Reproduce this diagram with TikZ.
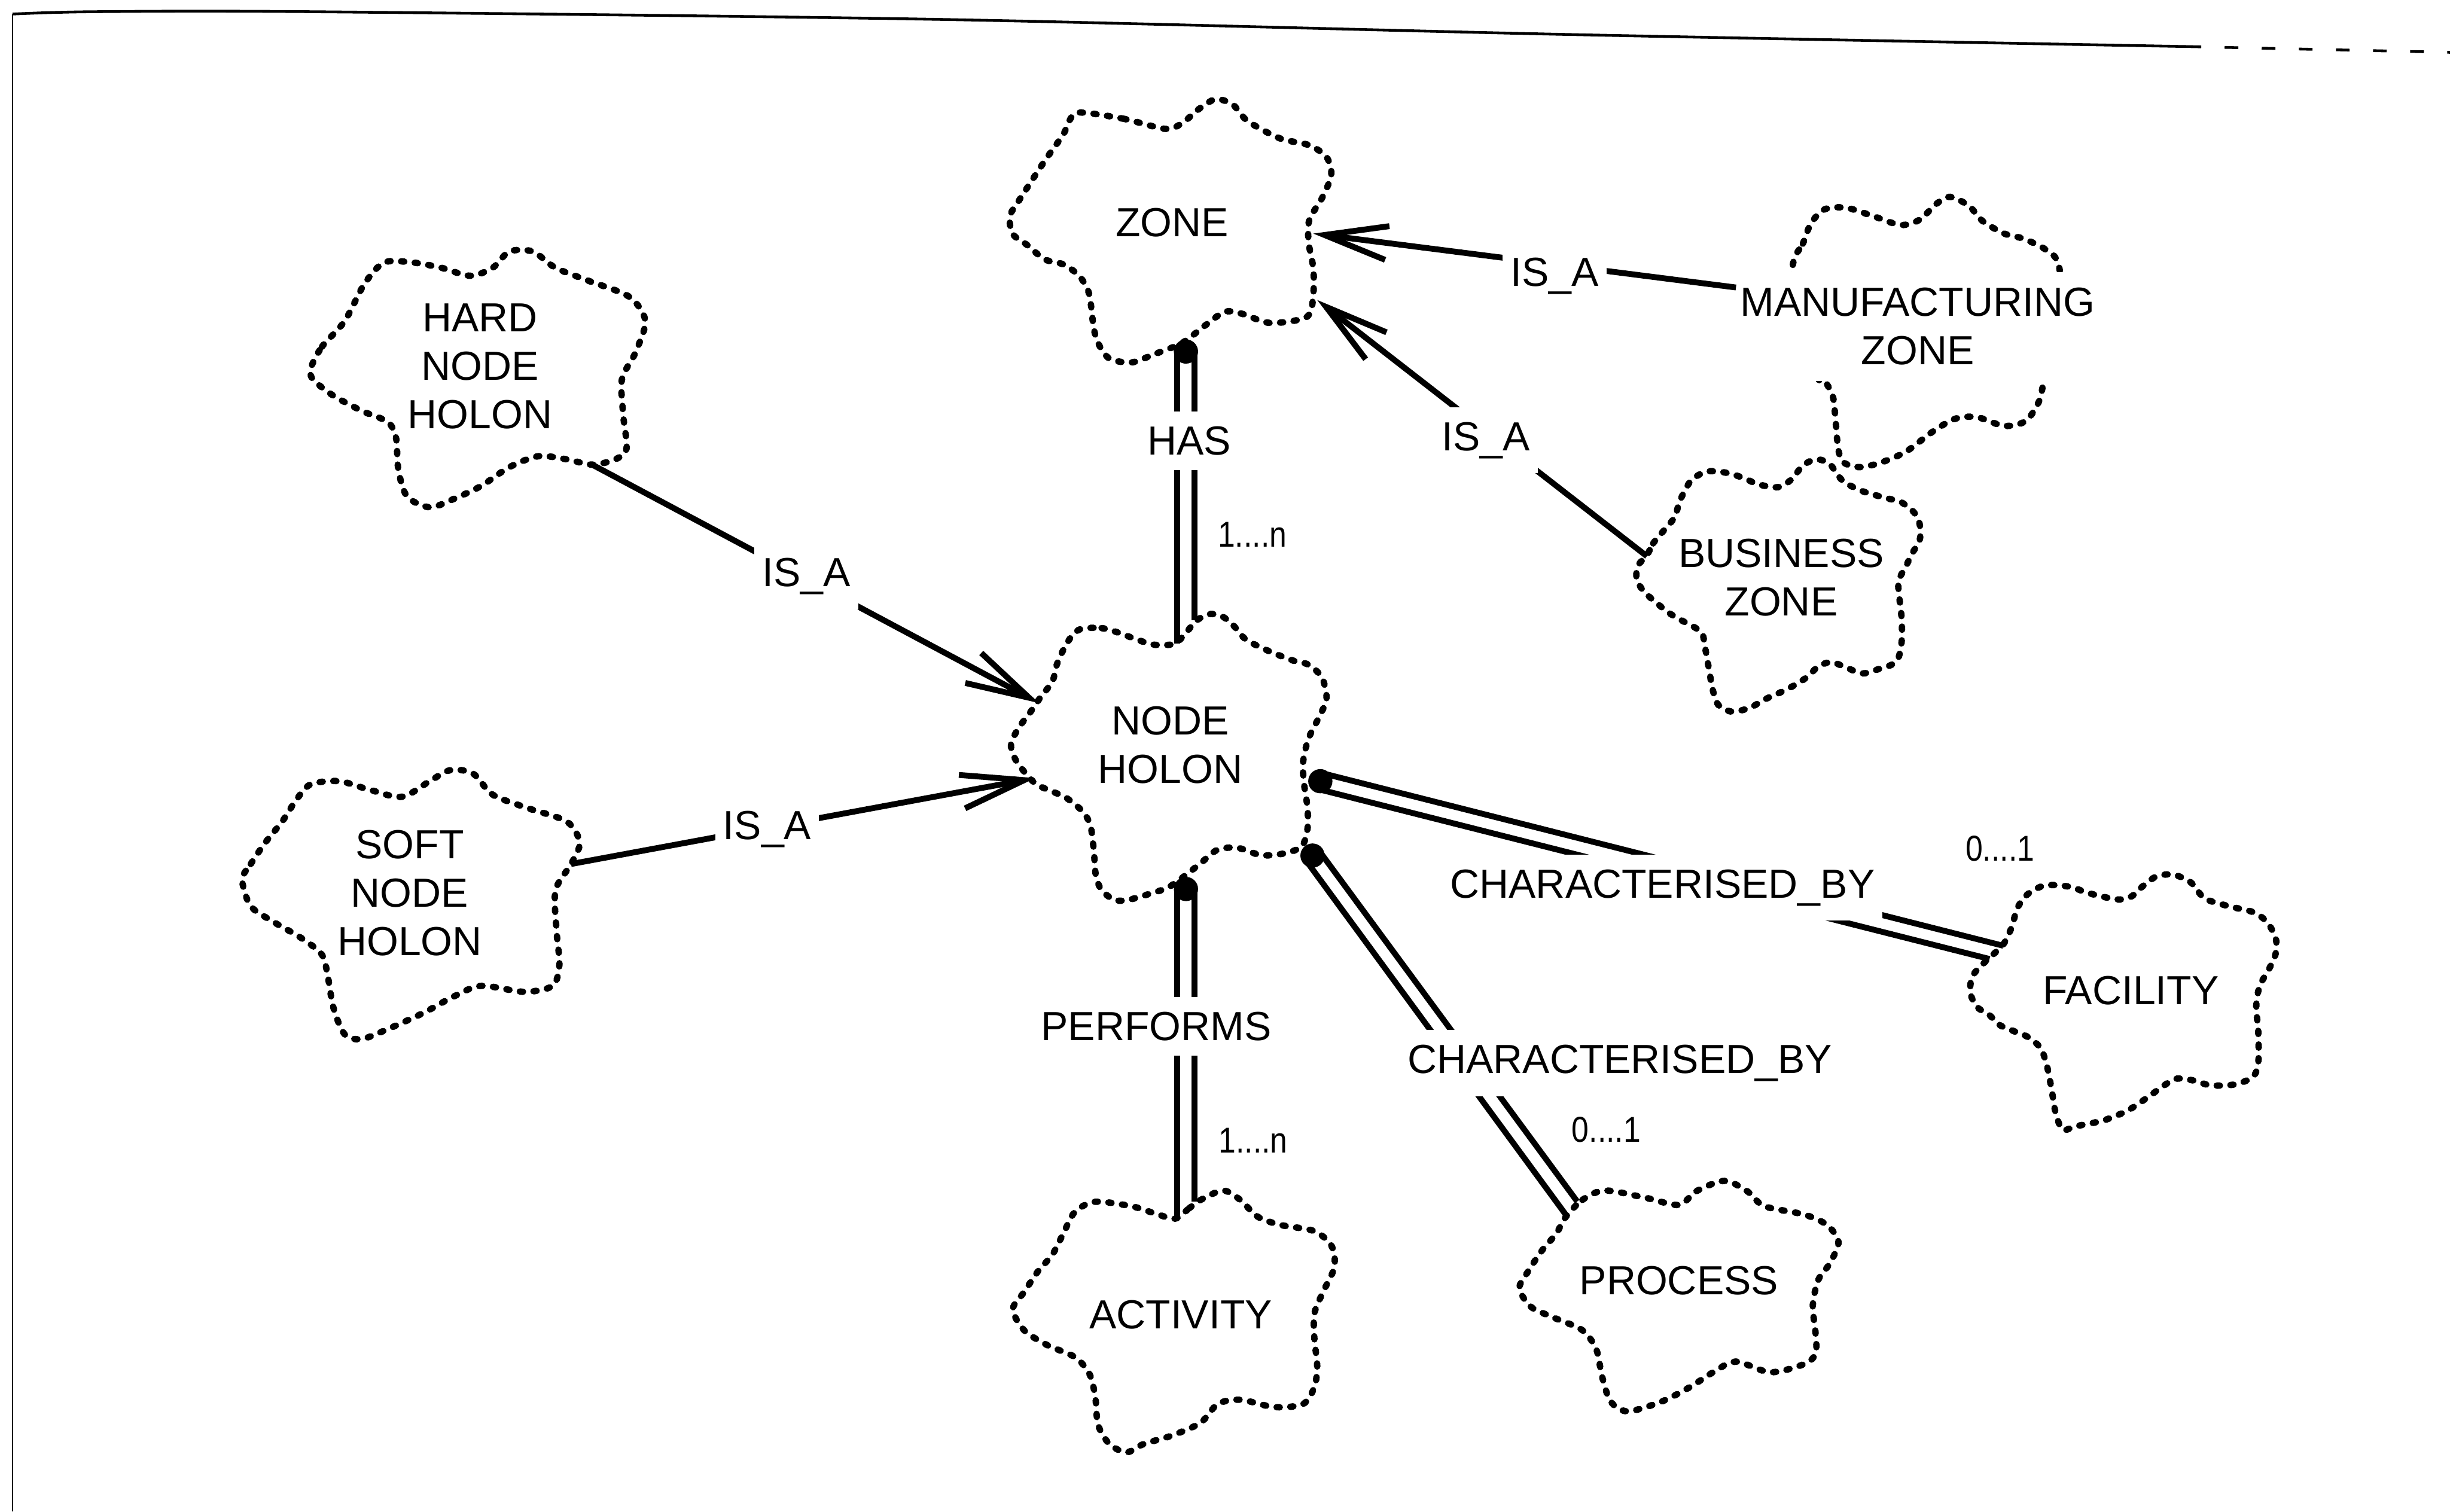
\documentclass[tikz,border=0pt]{standalone}
\usepackage{fontspec}
\setmainfont{Liberation Sans}
\usepackage{graphicx}
\usetikzlibrary{arrows.meta}

\newcommand\lblfont{\fontsize{29.6pt}{35.3pt}\selectfont}
\newcommand\multfont{\fontsize{26.2pt}{30pt}\selectfont}
\newcommand\mult[1]{\scalebox{0.86}[1]{#1}}

\begin{document}
\begin{tikzpicture}[x=0.04cm,y=-0.04cm,
  cloud/.style={line width=0.165cm, line cap=round, dash pattern=on 0.08cm off 0.27cm},
  frametop/.style={line width=0.07cm},
  frameside/.style={line width=0.04cm},
  isa/.style={line width=0.15cm, -{Straight Barb[length=1.62cm,width=0.87cm]}},
  rel/.style={line width=0.15cm},
  ent/.style={font=\lblfont, align=center, inner sep=0pt},
  lbl/.style={font=\lblfont, fill=white, inner xsep=0.2cm, inner ysep=0.38cm, anchor=base},
  card/.style={font=\multfont, inner sep=0pt}]

\useasboundingbox (0,0) rectangle (1568,967.5);

% page frame
\draw[frameside] (8,967.5) -- (8,9);
\draw[frametop] plot[smooth] coordinates {(8,9) (60,7.5) (200,7.5) (600,12.4) (1000,22) (1400,29.8)};
\draw[frametop, dash pattern=on 0.35cm off 0.6cm] (1400,29.8) -- (1568,33.5);

% entity outlines
\draw[cloud] plot[smooth cycle, tension=0.5] coordinates {
 (691,72) (719,76) (746,82.5) (757,78.5) (767,70) (778,63.5) (789,67) (798.5,77.5)
 (819,88.5) (838,93) (849,100.6) (852,112) (846,127) (838,140.6) (837.5,155) (840.5,171.7)
 (840.5,188) (836.5,202.7) (813,206.7) (795.5,201) (784,199.5) (771.7,208) (756.5,219.5)
 (738,227) (724,232) (710,229.5) (703,220) (700,210) (697,188) (691,177) (681,169.4)
 (668.6,166) (657.6,157) (648,149.6) (646.5,138) (653,127) (668.6,103) (680.5,86) (684.5,77)};

\draw[cloud] plot[smooth cycle, tension=0.5] coordinates {
 (198.8,236) (206,222) (220.6,205.5) (233.3,181.6) (246,168) (264,168) (282.5,171.4)
 (300.9,176.5) (315.3,171.4) (326,161) (341,161) (355.5,171.4) (377.4,180) (402.8,190)
 (413,205.5) (406.5,226) (398,243) (399,267) (401,287) (393.8,294) (379,297.4) (362.7,294)
 (344.6,292) (326,299) (308,311) (290,319.5) (275,324.7) (260.6,317.8) (255,301) (253.4,280)
 (248,270) (231.6,263) (213,253) (200.5,243)};

\draw[cloud] plot[smooth cycle, tension=0.5] coordinates {
 (155,563) (160.5,553) (169.7,539.4) (180.6,525.8) (189.6,512) (198.8,502) (217,500)
 (235,505) (257,510) (275,500) (288,493) (302.6,495) (315.3,508.6) (337,517) (362.7,525.8)
 (371,539.4) (365.5,553) (355.5,570) (356.3,597) (358,617.6) (353.6,631) (335.4,634.8)
 (308,631) (290,638) (271.6,648) (249.7,658) (231.6,665) (220.6,662) (213.4,645)
 (209.7,624.4) (206,611) (193,600.5) (175,590) (160.5,580)};

\draw[cloud] plot[smooth cycle, tension=0.5] coordinates {
 (692,402.5) (705,402) (716,405) (727.7,409.4) (739,412.7) (751.8,412) (759,405) (766,397)
 (774.7,393) (783,395) (790,401) (797.5,409.4) (812,416.7) (827.6,422.8) (837.5,425.5)
 (846,433.6) (849,447) (844.7,458) (837.5,472.6) (834,487.5) (834.5,501) (836.8,517)
 (836.8,530.4) (833.3,541.4) (823,546) (807.5,547.4) (791.8,542.6) (779,544) (769,552)
 (759,560) (747.6,568) (736,572) (722,576) (713.3,576) (705,569.7) (701.3,560) (700,544)
 (697.7,527.7) (692,518.5) (682,510.4) (672,506) (662,501) (650.7,487.5) (647,476.6)
 (652,465.8) (659,456.4) (666.4,445.6) (673.5,436.3) (676.3,425.6) (680.5,416) (686,407)};

\draw[cloud] plot[smooth cycle, tension=0.5] coordinates {
 (1147.6,168.5) (1153.8,156) (1159,143) (1167.7,134) (1181.6,133) (1199,138.4) (1216.4,144)
 (1228.6,140.6) (1239,130.7) (1248,126) (1260,131.7) (1269,141.6) (1282.7,149.5) (1295,152.8)
 (1308.8,159.5) (1317.5,169.4) (1320,205) (1308,245) (1305.4,256) (1296.7,269.3)
 (1282.7,272.6) (1265.3,267) (1251.4,268) (1237.3,276) (1219.9,289) (1204.2,295.9)
 (1190.3,299) (1179.8,295.9) (1176.4,287) (1174.6,267) (1173,253.7) (1167.7,243.7)
 (1163,241.5) (1145,205)};

\draw[cloud] plot[smooth cycle, tension=0.5] coordinates {
 (1054,355.5) (1058,347.8) (1065.3,339) (1071.8,331) (1074.5,322.3) (1078,314.5) (1083,306.8)
 (1092.4,301.8) (1103.8,302.4) (1115.3,305.7) (1125.3,310) (1138,311.8) (1146.6,306.8)
 (1153.8,298) (1162.3,294) (1170.9,296.9) (1179.4,307.8) (1192.3,314.5) (1208,319)
 (1216.4,321.2) (1225,328) (1228.6,335.6) (1228.6,345.6) (1223.6,354.5) (1219.4,363.3)
 (1215,372) (1215.7,383.4) (1217.1,396.6) (1217.1,410) (1215,421) (1210.7,425.4)
 (1202.2,428.3) (1192.3,431) (1182.2,427.6) (1172.2,423.8) (1163.7,426.6) (1156.6,433.3)
 (1148,438.8) (1139.4,443.2) (1129.4,447.7) (1119.5,453.2) (1108,455.4) (1099.6,451)
 (1096,441) (1094,429.8) (1091,413) (1089.4,405.5) (1083.7,401) (1075.3,396.6) (1068,392.2)
 (1061,386.6) (1052.4,378.9) (1047.5,371) (1048.2,362.2)};

\draw[cloud] plot[smooth cycle, tension=0.5] coordinates {
 (1273.3,613) (1282.2,604.3) (1287.7,592.8) (1291,581.4) (1297.6,572.4) (1308.8,566.7)
 (1324.2,567.5) (1337.6,571.9) (1355.3,575.7) (1364.2,573.7) (1371,567.5) (1380,561)
 (1390.8,559.8) (1402,564.7) (1411,575) (1426.3,580) (1442,583.8) (1450.7,590)
 (1456.4,600.3) (1456.4,610.4) (1452,620.6) (1446.3,630.8) (1444,643.5) (1445.3,661)
 (1445.3,680) (1442,689) (1430.8,694) (1415,694.7) (1404,691.6) (1393,690.4) (1384,695.4)
 (1375.4,701.7) (1362,710.6) (1346.6,717) (1328.8,720.8) (1320,723) (1315.5,711.8)
 (1313.3,699) (1311,686.5) (1308.8,677.7) (1305.4,670) (1297.6,663.6) (1288.7,659.9)
 (1280,656.2) (1273.3,649.8) (1265.6,644.7) (1261,635.8) (1262,625.6) (1266.6,619.4)};

\draw[cloud] plot[smooth cycle, tension=0.5] coordinates {
 (1001.7,779.4) (1012.7,768) (1027,762) (1052.6,766.5) (1074.5,771.2) (1085.5,762.5)
 (1103.6,755.8) (1118.3,762.5) (1129.2,772) (1154.8,777.4) (1169.2,784) (1176.6,794.8)
 (1171.2,808.4) (1163.8,819) (1160.2,835.3) (1162,854) (1162,866.3) (1154.8,873)
 (1133,878.3) (1111,871.5) (1096.4,878.3) (1081.7,887.7) (1063.6,897) (1041.7,903.3)
 (1030.8,897) (1025.3,881) (1021.6,863.6) (1012.7,851.4) (994.3,843.3) (979.9,836.5)
 (972.4,824.6) (978,813.7) (987,800.2) (996,789.6)};

\draw[cloud] plot[smooth cycle, tension=0.5] coordinates {
 (752,780) (761,773.4) (768.4,768) (782.8,762) (793.8,768) (804.7,778.6) (819.4,784)
 (841.2,788) (852.2,797.5) (854,811) (846.7,827) (841.2,840.7) (841.2,856.9) (843,874.3)
 (841.2,887.7) (834,898.6) (815.7,900.6) (793.8,895.9) (779.4,898.6) (768.4,910.6)
 (750,918.8) (732,924.2) (721,929.5) (710,924.2) (702.8,912) (701,894.4) (697.4,879.7)
 (688.2,868.8) (670,860.8) (655.4,851.4) (648.2,838) (655.4,827) (664.3,813.7) (673.5,803)
 (680.5,789.6) (687.7,776) (700.6,769.2) (724,772) (739,776.6)};

% connector end points
\coordinate (has-dot) at (759,225);
\coordinate (has-a1) at (753.5,225);   \coordinate (has-b1) at (753.5,412);
\coordinate (has-a2) at (764.5,225);   \coordinate (has-b2) at (764.5,397);
\coordinate (perf-dot) at (759,569);
\coordinate (perf-a1) at (753.5,569);  \coordinate (perf-b1) at (753.5,779);
\coordinate (perf-a2) at (764.5,569);  \coordinate (perf-b2) at (764.5,769);
\coordinate (fac-dot) at (845,500);
\coordinate (fac-a1) at (846.3,494.9); \coordinate (fac-b1) at (1282,605.3);
\coordinate (fac-a2) at (843.7,505.1); \coordinate (fac-b2) at (1273.3,613.8);
\coordinate (proc-dot) at (840,547.6);
\coordinate (proc-a1) at (835.8,550.7); \coordinate (proc-b1) at (1002.5,778);
\coordinate (proc-a2) at (844.2,544.5); \coordinate (proc-b2) at (1009.4,769);
\coordinate (hard-se) at (379,297.4);  \coordinate (node-nw) at (665,450);
\coordinate (soft-e) at (365.5,553);   \coordinate (node-w) at (662.6,498);
\coordinate (mz-w) at (1111,184);      \coordinate (zone-e) at (840.5,149.5);
\coordinate (bz-nw) at (1054,356);     \coordinate (zone-se) at (843,192);

% relationships (double lines with a filled end)
\draw[rel] (has-a1) -- (has-b1);   \draw[rel] (has-a2) -- (has-b2);
\draw[rel] (perf-a1) -- (perf-b1); \draw[rel] (perf-a2) -- (perf-b2);
\draw[rel] (fac-a1) -- (fac-b1);   \draw[rel] (fac-a2) -- (fac-b2);
\draw[rel] (proc-a1) -- (proc-b1); \draw[rel] (proc-a2) -- (proc-b2);
\fill (has-dot) circle[radius=0.31cm];
\fill (perf-dot) circle[radius=0.31cm];
\fill (fac-dot) circle[radius=0.31cm];
\fill (proc-dot) circle[radius=0.31cm];

% generalisations
\draw[isa] (hard-se) -- (node-nw);
\draw[isa] (soft-e) -- (node-w);
\draw[isa] (mz-w) -- (zone-e);
\draw[isa] (bz-nw) -- (zone-se);

% connector labels
\node[lbl] (lbl-has) at (761,291) {HAS};
\node[lbl] (lbl-perf) at (740,666) {PERFORMS};
\node[lbl] (lbl-fac) at (1064,574.6) {CHARACTERISED\_BY};
\node[lbl] (lbl-proc) at (1036.7,687) {CHARACTERISED\_BY};
\node[lbl] (isa-hard) at (516,375.3) {IS\_A};
\node[lbl] (isa-soft) at (491,537.3) {IS\_A};
\node[lbl] (isa-mz) at (995,183.3) {IS\_A};
\node[lbl] (isa-bz) at (951,288.3) {IS\_A};

\node[card] (card-has) at (801.5,342) {\mult{1....n}};
\node[card] (card-perf) at (802,730) {\mult{1....n}};
\node[card] (card-fac) at (1280,543) {\mult{0....1}};
\node[card] (card-proc) at (1028,723) {\mult{0....1}};

% entity names
\node[ent] (zone) at (750.2,142.5) {ZONE};
\node[ent] (hard) at (307.2,234.4) {HARD\\NODE\\HOLON};
\node[ent] (soft) at (262.2,571.6) {SOFT\\NODE\\HOLON};
\node[ent] (nodeholon) at (749,477) {NODE\\HOLON};
\node[ent, fill=white, inner ysep=0.4cm] (mz) at (1227.3,209) {MANUFACTURING\\ZONE};
\node[ent] (bz) at (1140,369.5) {BUSINESS\\ZONE};
\node[ent] (activity) at (755.7,841.4) {ACTIVITY};
\node[ent] (process) at (1074.5,819.7) {PROCESS};
\node[ent] (facility) at (1363.7,634) {FACILITY};
\end{tikzpicture}
\end{document}
